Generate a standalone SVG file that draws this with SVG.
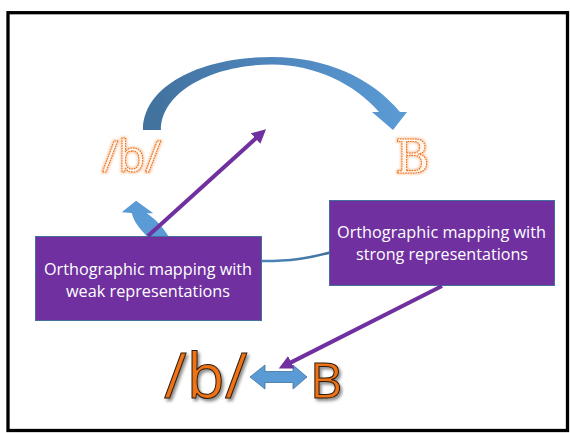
<svg xmlns="http://www.w3.org/2000/svg" width="570" height="433" viewBox="0 0 570 433">
  <style>
    .box { fill: #7030a0; stroke: #41719c; stroke-width: 1; }
    .boxtext { font-family: "Open Sans", "Liberation Sans", sans-serif; font-size: 16.5px; fill: #ffffff; text-anchor: start; }
    .link { fill: none; stroke: #7030a0; stroke-width: 4; marker-end: url(#purpleHead); }
    .sketch { fill: #fff6ef; stroke: #e8711c; stroke-width: 1.1; stroke-dasharray: 1.6 0.9; filter: url(#glow); }
    .bold { fill: #f07214; stroke: #2a1a0e; stroke-width: 1; filter: url(#shadow); }
  </style>
  <defs>
    <marker id="purpleHead" markerUnits="userSpaceOnUse" markerWidth="14" markerHeight="14" viewBox="0 0 12 12" refX="4" refY="6" orient="auto">
      <path d="M0,0 L12,6 L0,12 Z" fill="#7030a0"/>
    </marker>
    <linearGradient id="arcGrad" x1="0" y1="0" x2="1" y2="0">
      <stop offset="0" stop-color="#41719c"/>
      <stop offset="0.5" stop-color="#4f86bd"/>
      <stop offset="1" stop-color="#5b9bd5"/>
    </linearGradient>
    <linearGradient id="lineGrad" x1="0" y1="0" x2="1" y2="0">
      <stop offset="0" stop-color="#4f86bd"/>
      <stop offset="1" stop-color="#41719c"/>
    </linearGradient>
    <filter id="glow" x="-20%" y="-20%" width="140%" height="140%">
      <feMorphology in="SourceAlpha" operator="dilate" radius="1.2" result="fat"/>
      <feGaussianBlur in="fat" stdDeviation="1.3" result="soft"/>
      <feFlood flood-color="#f4a060" flood-opacity="0.55"/>
      <feComposite in2="soft" operator="in" result="halo"/>
      <feMerge>
        <feMergeNode in="halo"/>
        <feMergeNode in="SourceGraphic"/>
      </feMerge>
    </filter>
    <filter id="shadow" x="-20%" y="-20%" width="150%" height="150%">
      <feDropShadow dx="2" dy="2.5" stdDeviation="1.5" flood-color="#000000" flood-opacity="0.45"/>
    </filter>
  </defs>

  <rect width="570" height="433" fill="#ffffff"/>
  <!-- slide frame -->
  <rect x="8" y="12.7" width="559.5" height="417.8" fill="none" stroke="#000000" stroke-width="3.3"/>

  <!-- curved arrow over the top -->
  <g id="arc-arrow">
    <path d="M143,130 C143,86 200,57 272,57 C326,57 372,78 400,112 L407,112 L393,130 L372,112 L379,112 C355,84 315,64.5 272,64.5 C212,64.5 161,92 161,130 Z" fill="url(#arcGrad)"/>
  </g>

  <!-- phonemes and letters -->
  <g id="top-phoneme">
    <text x="102" y="172" class="sketch" font-family="Open Sans, Liberation Sans, sans-serif" font-size="44">/b/</text>
  </g>
  <g id="top-letter">
    <text x="395" y="173" class="sketch" font-family="DejaVu Serif, Liberation Serif, serif" font-size="47">B</text>
  </g>

  <g id="connectors">
    <!-- small curved arrow rising from the weak box -->
    <path d="M136,200.7 L121.7,212.3 L131.7,213 C134,222 140,229 146.7,236 L168.3,236 C162,226 154,218 146.7,213.3 L153.3,213.3 Z" fill="#5b9bd5"/>
    <!-- thin link between the two boxes -->
    <path d="M258,261 C290,261.5 310,258 332,252" fill="none" stroke="url(#lineGrad)" stroke-width="2.5"/>
  </g>

  <g id="weak-box">
    <rect x="35.5" y="236.5" width="226" height="84" class="box"/>
    <text x="44" y="274.5" class="boxtext" textLength="208" lengthAdjust="spacingAndGlyphs">Orthographic mapping with</text>
    <text x="66" y="296.5" class="boxtext" textLength="164" lengthAdjust="spacingAndGlyphs">weak representations</text>
  </g>

  <g id="strong-box">
    <rect x="329.5" y="200.5" width="225" height="85" class="box"/>
    <text x="337" y="237.5" class="boxtext" textLength="209" lengthAdjust="spacingAndGlyphs">Orthographic mapping with</text>
    <text x="356" y="259.5" class="boxtext" textLength="172" lengthAdjust="spacingAndGlyphs">strong representations</text>
  </g>

  <g id="bottom-pair">
    <text x="164" y="398" class="bold" font-family="Open Sans, Liberation Sans, sans-serif" font-size="62">/b/</text>
    <path d="M250,377 L265,365 L265,371.5 L293,371.5 L293,365 L307,377 L293,389 L293,382.5 L265,382.5 L265,389 Z" fill="#5b9bd5" stroke="#41719c" stroke-width="0.8"/>
    <text x="310" y="398" class="bold" font-family="Open Sans, Liberation Sans, sans-serif" font-size="50">B</text>
  </g>

  <g id="purple-links">
    <line x1="148" y1="236" x2="259.1" y2="135.4" class="link"/>
    <line x1="442" y1="286" x2="287.1" y2="364.4" class="link"/>
  </g>
</svg>
